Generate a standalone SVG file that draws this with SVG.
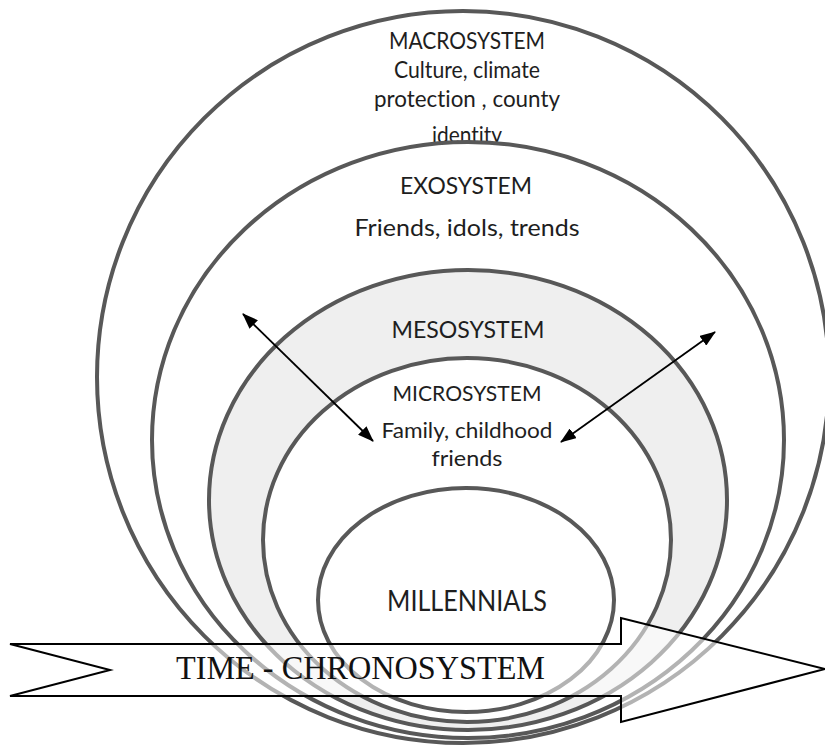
<svg xmlns="http://www.w3.org/2000/svg" width="825" height="745" viewBox="0 0 825 745">
<defs>
<style>
.ring{stroke:#585858;stroke-width:4;}
.lbl{font-family:Lato,"Liberation Sans",sans-serif;fill:#1e1e1e;text-anchor:middle;font-variant-ligatures:none;}
.conn{stroke:#000;stroke-width:1.8;fill:none;}
</style>
<marker id="ah" viewBox="0 0 16 12" refX="15" refY="6" markerWidth="16" markerHeight="12" markerUnits="userSpaceOnUse" orient="auto-start-reverse">
<path d="M0,0 L16,6 L0,12 z" fill="#000"/>
</marker>
</defs>
<rect width="825" height="745" fill="#fff"/>
<g id="macrosystem">
<ellipse class="ring" cx="463" cy="377" rx="366" ry="366" fill="#fff"/>
<text class="lbl" x="467" y="49" font-size="23" textLength="156" lengthAdjust="spacingAndGlyphs">MACROSYSTEM</text>
<text class="lbl" x="467" y="78" font-size="23" textLength="146" lengthAdjust="spacingAndGlyphs">Culture, climate</text>
<text class="lbl" x="467" y="107" font-size="23" textLength="186" lengthAdjust="spacingAndGlyphs">protection , county</text>
<text class="lbl" x="467" y="143" font-size="23" textLength="70" lengthAdjust="spacingAndGlyphs">identity</text>
</g>
<g id="exosystem">
<ellipse class="ring" cx="468" cy="440" rx="316" ry="298" fill="#fff"/>
<text class="lbl" x="466" y="194" font-size="23" textLength="132" lengthAdjust="spacingAndGlyphs">EXOSYSTEM</text>
<text class="lbl" x="467" y="236" font-size="24" textLength="225" lengthAdjust="spacingAndGlyphs">Friends, idols, trends</text>
</g>
<g id="mesosystem">
<ellipse class="ring" cx="468" cy="500" rx="259" ry="230" fill="#efefef"/>
<text class="lbl" x="468" y="338" font-size="23" textLength="153" lengthAdjust="spacingAndGlyphs">MESOSYSTEM</text>
</g>
<g id="microsystem">
<ellipse class="ring" cx="467" cy="540" rx="204" ry="182" fill="#fff"/>
<text class="lbl" x="467" y="401" font-size="22" textLength="149" lengthAdjust="spacingAndGlyphs">MICROSYSTEM</text>
<text class="lbl" x="467" y="438" font-size="22" textLength="171" lengthAdjust="spacingAndGlyphs">Family, childhood</text>
<text class="lbl" x="467" y="466" font-size="22" textLength="71" lengthAdjust="spacingAndGlyphs">friends</text>
</g>
<g id="millennials">
<ellipse class="ring" cx="466" cy="600" rx="148" ry="112" fill="#fff"/>
<text class="lbl" x="467" y="611" font-size="28" textLength="160" lengthAdjust="spacingAndGlyphs">MILLENNIALS</text>
</g>
<g id="connectors">
<line class="conn" x1="373" y1="441" x2="243" y2="314" marker-start="url(#ah)" marker-end="url(#ah)"/>
<line class="conn" x1="561" y1="442" x2="715" y2="332" marker-start="url(#ah)" marker-end="url(#ah)"/>
</g>
<g id="chronosystem">
<polygon points="10,644 621,644 621,618 825,669 621,722 621,696 10,696 110,670" fill="#fff" fill-opacity="0.55" stroke="#000" stroke-width="2" stroke-linejoin="miter"/>
<text x="176" y="679" font-family="'Liberation Serif','Times New Roman',serif" font-size="34" fill="#111" textLength="369" lengthAdjust="spacingAndGlyphs">TIME - CHRONOSYSTEM</text>
</g>
</svg>
